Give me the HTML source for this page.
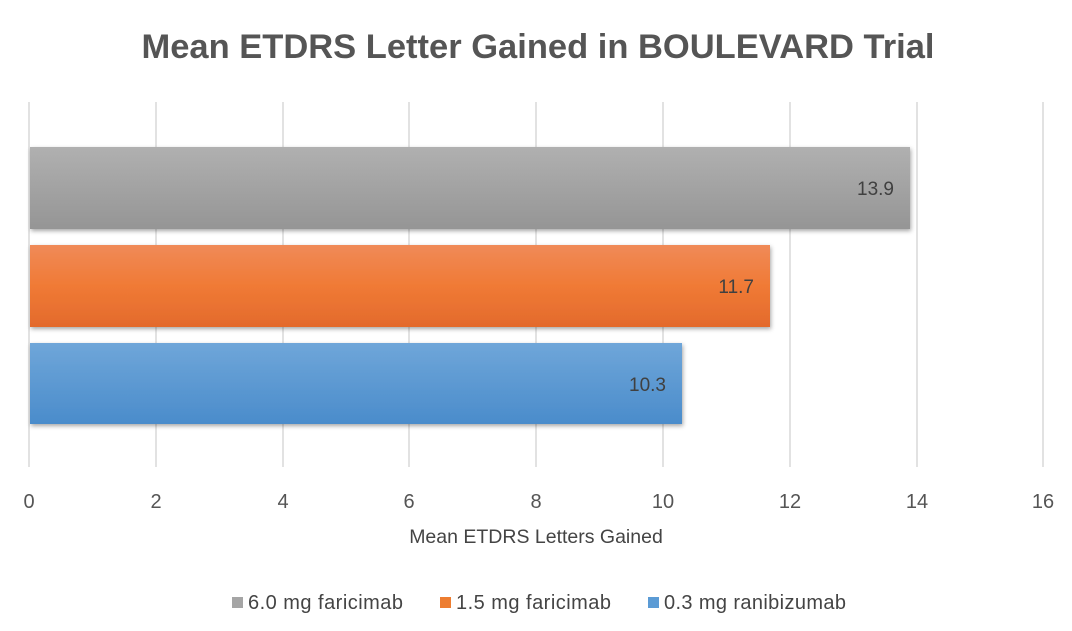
<!DOCTYPE html>
<html><head><style>
body{margin:0;width:1072px;height:626px;background:#fff;overflow:hidden;font-family:"Liberation Sans",sans-serif}
</style></head><body>
<svg width="1072" height="626" xmlns="http://www.w3.org/2000/svg">
<defs>
<linearGradient id="g" x1="0" y1="0" x2="0" y2="1"><stop offset="0" stop-color="#b0b0b0"/><stop offset="1" stop-color="#959595"/></linearGradient>
<linearGradient id="o" x1="0" y1="0" x2="0" y2="1"><stop offset="0" stop-color="#f08a58"/><stop offset="0.5" stop-color="#f07a35"/><stop offset="1" stop-color="#e36a2c"/></linearGradient>
<linearGradient id="b" x1="0" y1="0" x2="0" y2="1"><stop offset="0" stop-color="#6fa6d9"/><stop offset="1" stop-color="#4a8ccb"/></linearGradient>
<filter id="s" x="-5%" y="-10%" width="110%" height="130%"><feDropShadow dx="1" dy="2" stdDeviation="2" flood-color="#000" flood-opacity="0.35"/></filter>
</defs>
<text x="538" y="58" text-anchor="middle" font-size="34.5" font-weight="bold" fill="#555">Mean ETDRS Letter Gained in BOULEVARD Trial</text>
<g stroke="#d9d9d9" stroke-width="1.5">
<line x1="29" y1="102" x2="29" y2="467"/><line x1="156" y1="102" x2="156" y2="467"/><line x1="283" y1="102" x2="283" y2="467"/><line x1="409" y1="102" x2="409" y2="467"/><line x1="536" y1="102" x2="536" y2="467"/><line x1="663" y1="102" x2="663" y2="467"/><line x1="790" y1="102" x2="790" y2="467"/><line x1="917" y1="102" x2="917" y2="467"/><line x1="1043" y1="102" x2="1043" y2="467"/>
</g>
<rect x="30" y="147" width="880" height="82" fill="url(#g)" filter="url(#s)"/>
<rect x="30" y="245" width="740" height="82" fill="url(#o)" filter="url(#s)"/>
<rect x="30" y="343" width="652" height="81" fill="url(#b)" filter="url(#s)"/>
<g font-size="19" fill="#404040" text-anchor="end">
<text x="894" y="195">13.9</text><text x="754" y="293">11.7</text><text x="666" y="391">10.3</text>
</g>
<g font-size="20" fill="#555" text-anchor="middle">
<text x="29" y="508">0</text><text x="156" y="508">2</text><text x="283" y="508">4</text><text x="409" y="508">6</text><text x="536" y="508">8</text><text x="663" y="508">10</text><text x="790" y="508">12</text><text x="917" y="508">14</text><text x="1043" y="508">16</text>
</g>
<text x="536" y="543" text-anchor="middle" font-size="19.5" fill="#444">Mean ETDRS Letters Gained</text>
<g font-size="20" fill="#444">
<rect x="232" y="597" width="11" height="11" fill="#a5a5a5"/><text x="248" y="609" textLength="155">6.0 mg faricimab</text>
<rect x="440" y="597" width="11" height="11" fill="#ed7d31"/><text x="456" y="609" textLength="155">1.5 mg faricimab</text>
<rect x="648" y="597" width="11" height="11" fill="#5b9bd5"/><text x="664" y="609" textLength="182">0.3 mg ranibizumab</text>
</g>
</svg>
</body></html>
